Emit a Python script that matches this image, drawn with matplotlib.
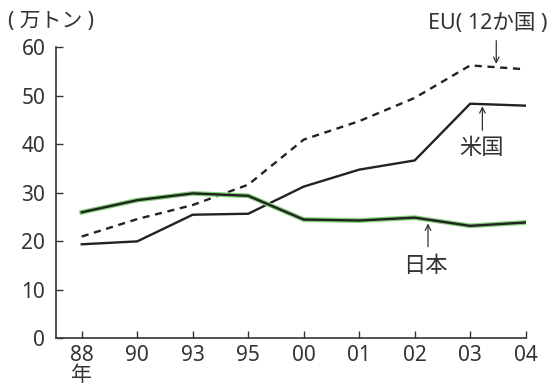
import numpy as np
import matplotlib
matplotlib.use('Agg')
import matplotlib.pyplot as plt
import matplotlib.patheffects as pe

plt.rcParams['font.family'] = ['Noto Sans', 'Noto Sans CJK JP', 'DejaVu Sans']

# data (万トン)
years = ['88', '90', '93', '95', '00', '01', '02', '03', '04']
japan = [26.0, 28.5, 29.9, 29.4, 24.5, 24.3, 24.9, 23.2, 23.9]
usa = [19.4, 20.0, 25.5, 25.7, 31.3, 34.8, 36.7, 48.4, 48.0]
eu = [21.0, 24.6, 27.5, 31.7, 41.0, 44.8, 49.6, 56.3, 55.5]
yticks = [0, 10, 20, 30, 40, 50, 60]

txt = '#333333'
line = '#222222'

fig = plt.figure(figsize=(5.52, 3.87), dpi=100)
ax = fig.add_axes([0.1009, 0.1258, 0.8514, 0.7515])

x = np.arange(len(years))
ax.plot(x, eu, color=line, lw=1.7, linestyle=(0, (3, 2.4)))
ax.plot(x, usa, color=line, lw=1.7)
ax.plot(x, japan, color=line, lw=1.7,
        path_effects=[pe.Stroke(linewidth=3.4, foreground='#82d077'), pe.Normal()])

ax.set_xlim(-0.47, len(years) - 1)
ax.set_ylim(0, 60)
ax.set_xticks(x)
labels = list(years)
labels[0] = years[0] + '\n年'
ax.set_xticklabels(labels, linespacing=0.92)
ax.set_yticks(yticks)
ax.tick_params(axis='both', direction='in', length=5, width=1, colors=txt,
               labelsize=15, labelcolor=txt)
ax.tick_params(axis='x', pad=5)
ax.tick_params(axis='y', pad=7.5)

for s in ['top', 'right']:
    ax.spines[s].set_visible(False)
for s in ['left', 'bottom']:
    ax.spines[s].set_color(txt)
    ax.spines[s].set_linewidth(1.2)

# labels with arrows
arrow = dict(arrowstyle='->', color=txt, lw=0.9, shrinkA=0, shrinkB=0)
ax.annotate('', xy=(7.47, 56.6), xytext=(7.47, 61.4), arrowprops=arrow,
            annotation_clip=False)
ax.text(7.31, 64.9, 'EU( 12か国 )', ha='center', va='center', fontsize=15.5,
        color=txt, clip_on=False)
ax.annotate('', xy=(7.22, 47.9), xytext=(7.22, 42.9), arrowprops=arrow)
ax.text(7.21, 39.2, '米国', ha='center', va='center', fontsize=16, color=txt)
ax.annotate('', xy=(6.24, 23.7), xytext=(6.24, 18.9), arrowprops=arrow)
ax.text(6.20, 14.9, '日本', ha='center', va='center', fontsize=16, color=txt)

fig.text(0.0145, 1 - 22 / 387, '( 万トン )', ha='left', va='center',
         fontsize=15, color=txt)

fig.savefig('out.png', dpi=100)
